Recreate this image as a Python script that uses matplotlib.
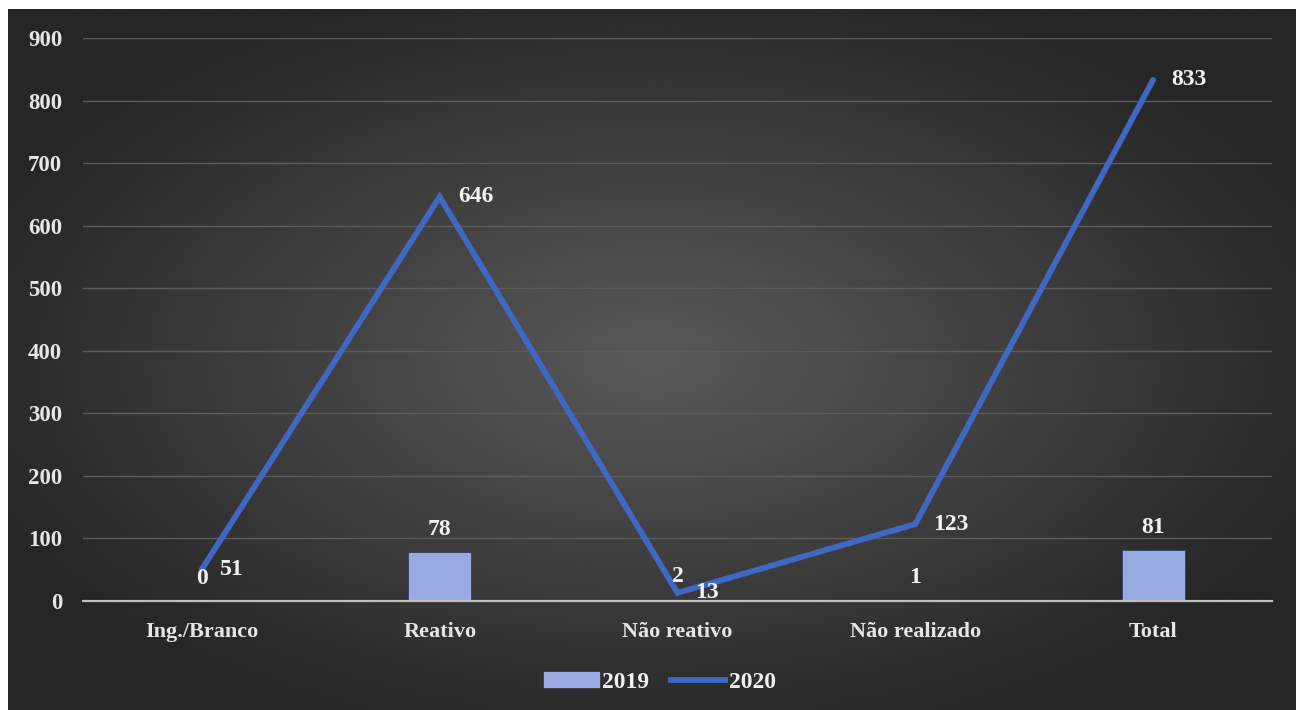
import matplotlib
matplotlib.use("Agg")
import matplotlib.pyplot as plt
import numpy as np
from matplotlib.patches import Patch
from matplotlib.lines import Line2D

categories = ["Ing./Branco", "Reativo", "Não reativo", "Não realizado", "Total"]
values_2019 = [0, 78, 2, 1, 81]
values_2020 = [51, 646, 13, 123, 833]
yticks = [0, 100, 200, 300, 400, 500, 600, 700, 800, 900]

plt.rcParams['font.family'] = ['Liberation Serif', 'DejaVu Serif']
plt.rcParams['font.weight'] = 'bold'

W, H = 1296, 710
fig = plt.figure(figsize=(W / 100, H / 100), dpi=100, facecolor='white')

# dark radial gradient background (leaves a thin white border top/left)
bg = fig.add_axes([8 / W, 0, 1 - 8 / W, 1 - 9 / H])
yy, xx = np.mgrid[0:1:300j, 0:1:500j]
r = np.sqrt(((xx - 0.5) / 0.75) ** 2 + ((yy - 0.5) / 0.75) ** 2)
shade = np.clip(0.35 - 0.27 * r, 0.15, 0.35)
bg.imshow(shade, cmap='gray', vmin=0, vmax=1, aspect='auto',
          extent=[0, 1, 0, 1], interpolation='bicubic')
bg.set_axis_off()

ax = fig.add_axes([83 / W, 109 / H, (1272 - 83) / W, (601 - 38) / H])
ax.patch.set_alpha(0)
x = np.arange(len(categories))

bars = ax.bar(x, values_2019, width=0.265, color='#97abe2', edgecolor='#2f3e66',
              linewidth=0.6, zorder=3, label='2019')
ax.plot(x, values_2020, color='#3d69c4', lw=4.2, solid_joinstyle='miter',
        solid_capstyle='round', zorder=4, label='2020')

for xi, v in zip(x, values_2019):
    ax.annotate(str(v), (xi, v), xytext=(0, 9), textcoords='offset points',
                ha='center', va='bottom', color='#f2f2f2', fontsize=17,
                fontweight='bold', zorder=5)
for xi, v in zip(x, values_2020):
    ax.annotate(str(v), (xi, v), xytext=(13, 0), textcoords='offset points',
                ha='left', va='center', color='#f2f2f2', fontsize=17,
                fontweight='bold', zorder=5)

ax.set_xlim(-0.5, len(categories) - 0.5)
ax.set_ylim(0, 900)
ax.set_yticks(yticks)
ax.set_xticks(x)
ax.set_xticklabels(categories)
ax.tick_params(axis='both', length=0, colors='#e6e6e6', labelsize=16.5)
ax.tick_params(axis='x', pad=15, labelsize=16)
ax.tick_params(axis='y', pad=15)
for lbl in ax.get_xticklabels() + ax.get_yticklabels():
    lbl.set_fontweight('bold')
ax.grid(axis='y', color='#5c5c5c', lw=1, zorder=0)
for s in ['top', 'right', 'left']:
    ax.spines[s].set_visible(False)
ax.spines['bottom'].set_color('#bfbfbf')
ax.spines['bottom'].set_linewidth(1.6)
ax.spines['bottom'].set_zorder(3)

handles = [Patch(facecolor='#97abe2', edgecolor='#97abe2'),
           Line2D([0], [0], color='#3d69c4', lw=4.2)]
leg = fig.legend(handles, ['2019', '2020'], loc='center', ncol=2,
                 bbox_to_anchor=(660 / W, 1 - 682 / H), frameon=False,
                 handlelength=2.3, handleheight=0.6, handletextpad=0.15,
                 columnspacing=0.9, prop={'weight': 'bold', 'size': 17})
for t in leg.get_texts():
    t.set_color('#f2f2f2')

fig.savefig('out.png', dpi=100, facecolor='white')
